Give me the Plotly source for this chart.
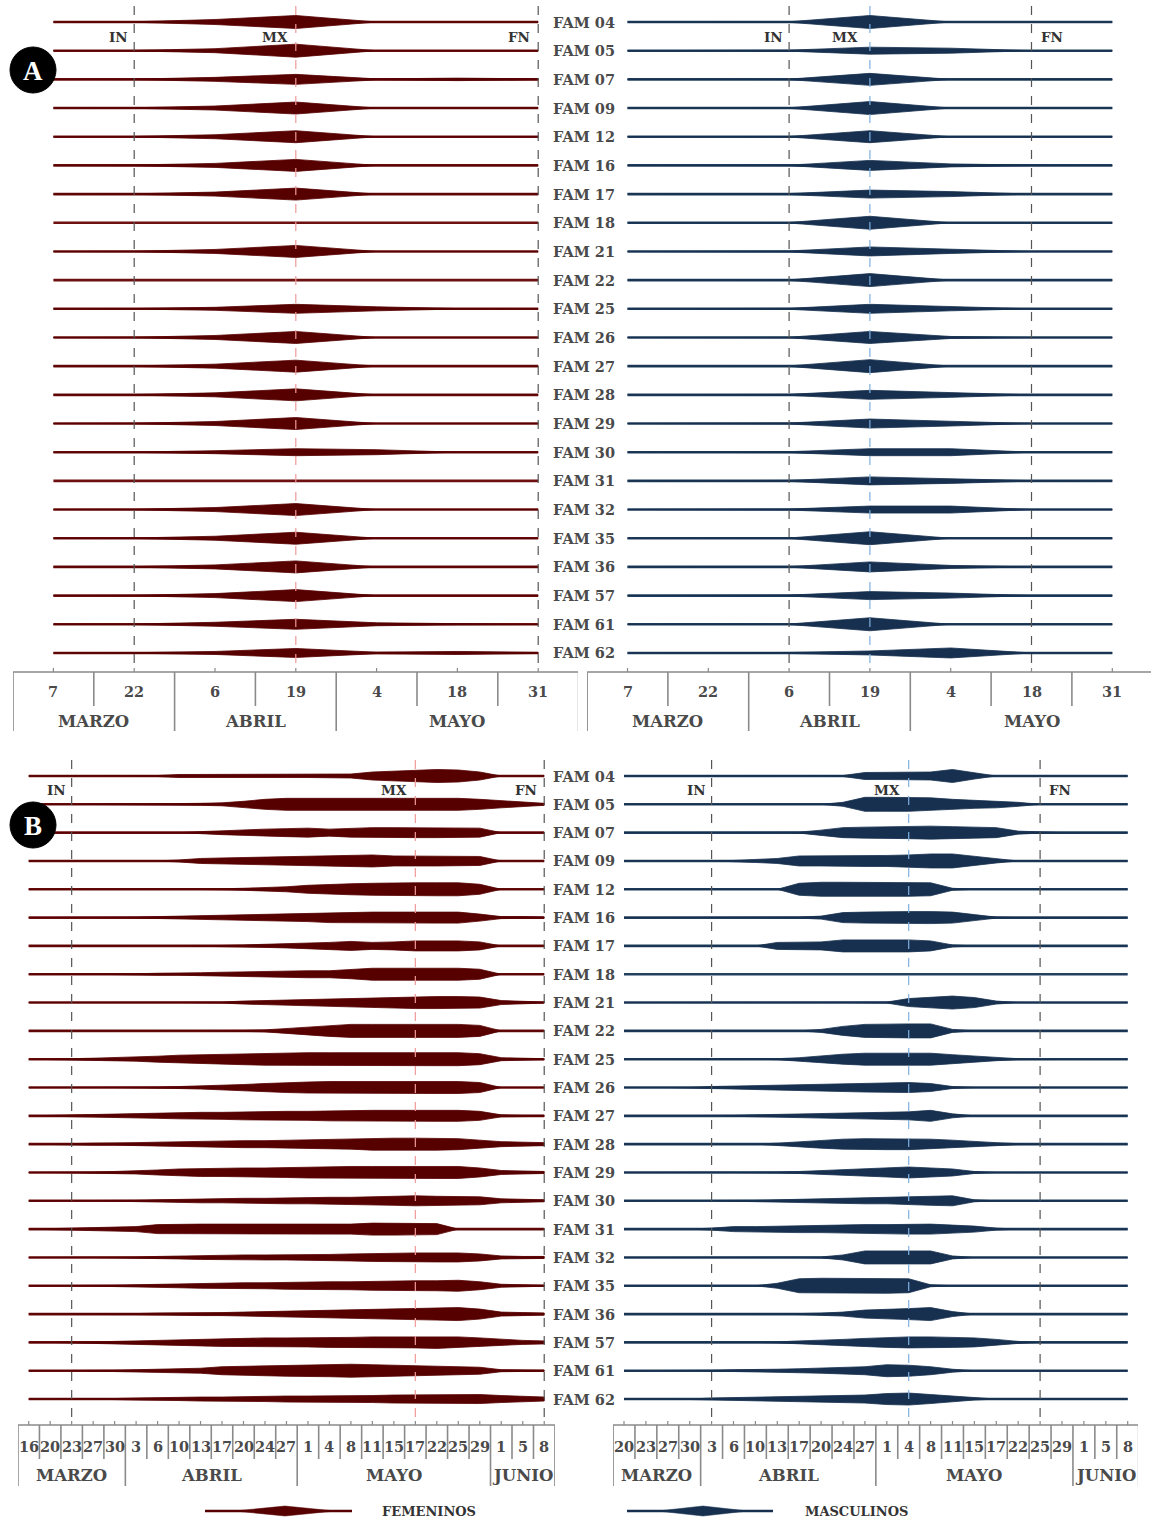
import plotly.graph_objects as go

W, H = 1151, 1521

FAMILIES = ["FAM 04", "FAM 05", "FAM 07", "FAM 09", "FAM 12", "FAM 16", "FAM 17", "FAM 18",
            "FAM 21", "FAM 22", "FAM 25", "FAM 26", "FAM 27", "FAM 28", "FAM 29", "FAM 30",
            "FAM 31", "FAM 32", "FAM 35", "FAM 36", "FAM 57", "FAM 61", "FAM 62"]

DATES_A = ["7", "22", "6", "19", "4", "18", "31"]
MONTHS_A = ["MARZO", "ABRIL", "MAYO"]
MONTH_SPAN_A = [2, 2, 3]

DATES_BF = ["16", "20", "23", "27", "30", "3", "6", "10", "13", "17", "20", "24", "27",
            "1", "4", "8", "11", "15", "17", "22", "25", "29", "1", "5", "8"]
MONTHS_B = ["MARZO", "ABRIL", "MAYO", "JUNIO"]
MONTH_SPAN_BF = [5, 8, 9, 3]
DATES_BM = ["20", "23", "27", "30", "3", "6", "10", "13", "17", "20", "24", "27",
            "1", "4", "8", "11", "15", "17", "22", "25", "29", "1", "5", "8"]
MONTH_SPAN_BM = [4, 8, 9, 3]

MARK_NAMES = ["IN", "MX", "FN"]
MARKS_AF = [1, 3, 6]
MARKS_AM = [2, 3, 5]
MARKS_BF = [2, 18, 24]
MARKS_BM = [4, 13, 19]

# relative abundance (band thickness) per family and date
A_FEM = [
    [0, 0.5, 5, 13, 0, 0, 0],
    [0, 0.5, 4, 13, 0, 0, 0],
    [0, 0.5, 4, 10, 1, 2.5, 1],
    [0, 0.5, 4, 12, 0, 0, 0],
    [0, 0.5, 4, 12, 0, 0, 0],
    [0, 0.8, 4, 12, 0, 0, 0],
    [0, 0.5, 4, 12, 0, 0, 0],
    [0, 0, 0, 0, 0, 0, 0],
    [0, 0.5, 4, 12, 0, 0, 0],
    [0, 0, 0, 0, 0, 0, 0],
    [0, 0.5, 3, 9, 4, 0.5, 0],
    [0, 0.5, 4, 12, 0, 0, 0],
    [0, 0.5, 4, 12, 0, 0, 0],
    [0, 0.5, 4, 12, 0, 0, 0],
    [0, 0.5, 4, 12, 0, 0, 0],
    [0, 0.3, 3, 7, 5, 0, 0],
    [0, 0, 0, 0, 0, 0, 0],
    [0, 0.5, 4, 12, 0, 0, 0],
    [0, 0.5, 4, 12, 0, 0, 0],
    [0, 0.5, 4, 12, 0, 0, 0],
    [0, 0.5, 4, 12, 0, 0, 0],
    [0, 0.5, 4, 10, 3, 1, 0.5],
    [0, 0.5, 3, 9, 1.5, 3, 1],
]

A_MAS = [
    [0, 0, 0.5, 13, 0, 0, 0],
    [0, 0, 1, 7, 5, 0, 0],
    [0, 0, 0.5, 12, 0, 0, 0],
    [0, 0, 0.5, 13, 0, 0, 0],
    [0, 0, 0.5, 12, 0, 0, 0],
    [0, 0, 0.5, 10, 3, 0.5, 0],
    [0, 0, 1, 8, 5, 0, 0],
    [0, 0, 0.5, 13, 0, 0, 0],
    [0, 0, 1, 9, 4, 0, 0],
    [0, 0, 0.5, 13, 0, 0, 0],
    [0, 0, 1, 9, 4, 0, 0],
    [0, 0, 0.5, 12, 2, 0, 0],
    [0, 0, 0.5, 13, 0, 0, 0],
    [0, 0, 1, 9, 5, 0, 0],
    [0, 0, 1, 9, 5, 0, 0],
    [0, 0, 1, 7, 7, 0, 0],
    [0, 0, 1, 8, 5, 0.5, 0],
    [0, 0, 1, 7, 7, 0, 0],
    [0, 0, 0.5, 13, 0, 0, 0],
    [0, 0, 0.5, 10, 3, 0, 0],
    [0, 0, 1, 8, 5, 0, 0],
    [0, 0, 0.5, 13, 0, 0, 0],
    [0, 0, 1, 4, 10, 0, 0],
]

B_FEM = [
    [0, 0, 0, 0, 0, 0, 1, 3, 3, 3, 3, 3, 3, 3, 3, 4, 8, 10, 11, 13, 12, 8, 0, 0, 0],
    [0, 0, 0, 0, 0, 0, 1, 1.5, 2, 3, 6, 10, 12, 12, 12, 12, 12, 12, 12, 12, 12, 10, 7, 4, 2],
    [0, 0, 0, 0, 0, 0, 0, 0, 2, 4, 6, 7, 8, 9, 7, 9, 10, 10, 10, 10, 10, 9, 0, 0, 0],
    [0, 0, 0, 0, 0, 0, 0, 2, 5, 6, 7, 8, 9, 9, 10, 11, 12, 10, 10, 10, 10, 9, 0, 0, 0],
    [0, 0, 0, 0, 0, 0, 0, 0, 0, 1, 2, 3, 5, 8, 10, 11, 12, 13, 13, 13, 13, 10, 0, 0, 0],
    [0, 0, 0, 0, 0, 1, 2, 3, 4, 5, 6, 6, 7, 8, 10, 11, 11, 11, 11, 11, 11, 7, 2, 2, 1],
    [0, 0, 0, 0, 0, 0, 0, 0, 0, 1, 2, 3, 4, 5, 7, 9, 7, 8, 10, 10, 10, 8, 0, 0, 0],
    [0, 0, 0, 0, 1, 1, 2, 2, 3, 4, 5, 5, 6, 7, 7, 9, 12, 12, 12, 12, 12, 10, 0, 0, 0],
    [0, 0, 0, 0, 0, 0, 0, 0, 0, 1, 3, 4, 5, 6, 7, 9, 10, 11, 12, 12, 12, 11, 4, 2, 1],
    [0, 0, 0, 0, 0, 0, 0, 0, 0, 0, 1, 2, 5, 8, 11, 13, 13, 13, 13, 13, 13, 11, 0, 0, 0],
    [0, 0, 1, 2, 3, 4, 6, 8, 9, 10, 11, 12, 13, 13, 13, 13, 13, 13, 13, 13, 13, 11, 3, 2, 1],
    [0, 0, 0, 0, 0, 0, 1, 2, 3, 4, 6, 8, 10, 11, 12, 12, 12, 12, 12, 12, 12, 10, 0, 0, 0],
    [0, 1, 2, 2, 3, 4, 5, 6, 7, 7, 8, 8, 9, 9, 10, 10, 11, 11, 11, 11, 11, 9, 2, 1, 1],
    [0, 0, 1, 2, 2, 3, 4, 5, 6, 6, 7, 7, 8, 9, 9, 10, 12, 12, 12, 12, 11, 8, 5, 4, 3],
    [0, 0, 0, 1, 2, 3, 5, 7, 8, 8, 9, 9, 10, 11, 12, 12, 12, 12, 12, 12, 12, 9, 4, 3, 2],
    [0, 0, 0, 0, 1, 1, 2, 3, 4, 4, 5, 5, 6, 6, 7, 7, 8, 9, 10, 9, 9, 8, 4, 3, 2],
    [0, 1, 2, 3, 4, 5, 9, 10, 10, 10, 10, 10, 10, 10, 10, 10, 12, 12, 12, 11, 0, 0, 0, 0, 0],
    [0, 0, 0, 0, 1, 1, 2, 3, 4, 4, 5, 5, 5, 6, 6, 7, 8, 9, 9, 9, 9, 7, 3, 2, 2],
    [0, 0, 0, 1, 1, 2, 3, 4, 5, 5, 6, 6, 7, 7, 8, 8, 9, 9, 10, 10, 11, 8, 3, 2, 1],
    [0, 0, 0, 0, 1, 1, 2, 2, 3, 3, 4, 5, 6, 6, 7, 8, 9, 10, 11, 12, 13, 10, 4, 3, 2],
    [0, 0, 0, 1, 2, 3, 4, 6, 7, 8, 8, 9, 9, 9, 10, 10, 11, 11, 11, 12, 11, 9, 6, 4, 3],
    [0, 0, 0, 0, 1, 2, 3, 4, 5, 8, 9, 10, 11, 12, 12, 13, 12, 11, 10, 9, 8, 7, 2, 1, 1],
    [0, 0, 0, 0, 1, 2, 3, 3, 4, 4, 5, 5, 6, 6, 6, 7, 7, 8, 8, 8, 9, 9, 7, 5, 4],
]

B_MAS = [
    [0, 0, 0, 0, 0, 0, 0, 0, 0, 0, 1, 7, 7, 7, 8, 13, 6, 0, 0, 0, 0, 0, 0, 0],
    [0, 0, 0, 0, 0, 0, 0, 0, 0, 0, 4, 14, 14, 14, 13, 10, 8, 7, 4, 0, 0, 0, 0, 0],
    [0, 0, 0, 0, 0, 0, 0, 0, 1, 5, 10, 11, 12, 12, 13, 12, 11, 10, 3, 1, 0, 0, 0, 0],
    [0, 0, 0, 0, 0, 1, 3, 5, 10, 10, 10, 11, 11, 12, 14, 14, 9, 4, 0, 0, 0, 0, 0, 0],
    [0, 0, 0, 0, 0, 0, 0, 0, 12, 14, 14, 14, 14, 14, 13, 2, 0, 0, 0, 0, 0, 0, 0, 0],
    [0, 0, 0, 0, 0, 0, 0, 0, 1, 3, 10, 11, 12, 12, 12, 11, 6, 1, 0, 0, 0, 0, 0, 0],
    [0, 0, 0, 0, 0, 0, 0, 7, 8, 8, 12, 12, 12, 12, 10, 2, 0, 0, 0, 0, 0, 0, 0, 0],
    [0, 0, 0, 0, 0, 0, 0, 0, 0, 0, 0, 0, 0, 0, 0, 0, 0, 0, 0, 0, 0, 0, 0, 0],
    [0, 0, 0, 0, 0, 0, 0, 0, 0, 0, 0, 0, 1, 8, 11, 13, 10, 3, 0, 0, 0, 0, 0, 0],
    [0, 0, 0, 0, 0, 0, 0, 0, 0, 3, 9, 13, 14, 14, 14, 3, 0, 0, 0, 0, 0, 0, 0, 0],
    [0, 0, 0, 0, 0, 0, 0, 1, 3, 7, 10, 12, 12, 12, 12, 9, 6, 3, 1, 0, 0, 0, 0, 0],
    [0, 0, 0, 0, 2, 3, 4, 5, 6, 7, 8, 9, 10, 10, 8, 2, 0, 0, 0, 0, 0, 0, 0, 0],
    [0, 0, 0, 0, 0, 1, 2, 3, 3, 4, 5, 6, 7, 8, 11, 4, 0, 0, 0, 0, 0, 0, 0, 0],
    [0, 0, 0, 0, 0, 0, 0, 2, 5, 8, 10, 11, 11, 11, 10, 8, 5, 3, 1, 0, 0, 0, 0, 0],
    [0, 0, 0, 0, 0, 0, 0, 1, 2, 4, 6, 7, 9, 11, 9, 7, 2, 0, 0, 0, 0, 0, 0, 0],
    [0, 0, 0, 0, 0, 0, 1, 2, 3, 4, 5, 6, 6, 7, 9, 10, 2, 0, 0, 0, 0, 0, 0, 0],
    [0, 0, 0, 0, 2, 5, 5, 6, 7, 7, 8, 9, 9, 10, 10, 8, 6, 2, 0, 0, 0, 0, 0, 0],
    [0, 0, 0, 0, 0, 0, 0, 0, 0, 1, 5, 13, 13, 13, 13, 3, 0, 0, 0, 0, 0, 0, 0, 0],
    [0, 0, 0, 0, 0, 0, 0, 5, 14, 15, 15, 15, 15, 14, 2, 0, 0, 0, 0, 0, 0, 0, 0, 0],
    [0, 0, 0, 0, 0, 0, 0, 0, 1, 2, 4, 8, 9, 11, 13, 5, 0, 0, 0, 0, 0, 0, 0, 0],
    [0, 0, 0, 0, 0, 0, 0, 1, 3, 4, 6, 8, 10, 11, 11, 10, 9, 6, 2, 0, 0, 0, 0, 0],
    [0, 0, 0, 0, 1, 2, 2, 3, 4, 5, 6, 8, 12, 11, 8, 3, 0, 0, 0, 0, 0, 0, 0, 0],
    [0, 0, 0, 0, 2, 3, 3, 4, 5, 6, 7, 8, 11, 12, 9, 6, 2, 0, 0, 0, 0, 0, 0, 0],
]

# ---------------------------------------------------------------- styling / layout
FONT = "DejaVu Serif"
TXT = "#4a4a4a"
FEM_FILL, FEM_LINE, FEM_MX = "#570000", "#6e1010", "#f19a9a"
MAS_FILL, MAS_LINE, MAS_MX = "#17304f", "#23405f", "#7fb0e0"
GRID = "#8a8a8a"


def P(py):
    return 1 - py / H


def X(px):
    return px / W


A_GEOM = dict(top=6, axis=672, row0=22, rowstep=28.68, date_y=692, month_y=721,
              dsep=706, msep=731, mark_y=37)
B_GEOM = dict(top=760, axis=1425, row0=776, rowstep=28.32, date_y=1446, month_y=1475,
              dsep=1459, msep=1486, mark_y=790)

PANELS = [
    dict(vals=A_FEM, dates=DATES_A, months=MONTHS_A, spans=MONTH_SPAN_A, marks=MARKS_AF,
         fill=FEM_FILL, line=FEM_LINE, mx=FEM_MX, left=13, right=578, first=53.4, step=80.8,
         shifts=[-4, -6, -6], anchors=["right", "right", "right"], g=A_GEOM),
    dict(vals=A_MAS, dates=DATES_A, months=MONTHS_A, spans=MONTH_SPAN_A, marks=MARKS_AM,
         fill=MAS_FILL, line=MAS_LINE, mx=MAS_MX, left=587, right=1151, first=627.5, step=80.8,
         shifts=[-4, -10, 7], anchors=["right", "right", "left"], g=A_GEOM),
    dict(vals=B_FEM, dates=DATES_BF, months=MONTHS_B, spans=MONTH_SPAN_BF, marks=MARKS_BF,
         fill=FEM_FILL, line=FEM_LINE, mx=FEM_MX, left=18, right=555, first=28.7, step=21.48,
         shifts=[-4, -6, -5], anchors=["right", "right", "right"], g=B_GEOM),
    dict(vals=B_MAS, dates=DATES_BM, months=MONTHS_B, spans=MONTH_SPAN_BM, marks=MARKS_BM,
         fill=MAS_FILL, line=MAS_LINE, mx=MAS_MX, left=613, right=1138, first=624.0, step=21.9,
         shifts=[-4, -7, 7], anchors=["right", "right", "left"], g=B_GEOM),
]

fig = go.Figure()
shapes = []
annotations = []
layout_axes = {}

for k, p in enumerate(PANELS, start=1):
    g = p["g"]
    xa = "x" if k == 1 else f"x{k}"
    ya = "y" if k == 1 else f"y{k}"
    n = len(p["dates"])
    x_lo = (p["left"] - p["first"]) / p["step"]
    x_hi = (p["right"] - p["first"]) / p["step"]
    layout_axes["xaxis" if k == 1 else f"xaxis{k}"] = dict(
        domain=[X(p["left"]), min(1.0, X(p["right"]))], range=[x_lo, x_hi],
        visible=False, anchor=ya, fixedrange=True)
    y_lo = -(g["axis"] - g["row0"]) / g["rowstep"]
    y_hi = (g["row0"] - g["top"]) / g["rowstep"]
    layout_axes["yaxis" if k == 1 else f"yaxis{k}"] = dict(
        domain=[P(g["axis"]), P(g["top"])], range=[y_lo, y_hi],
        visible=False, anchor=xa, fixedrange=True)

    half = 0.5 / g["rowstep"]  # one unit of abundance = 1 px of band thickness
    idx = list(range(n))
    for i, row in enumerate(p["vals"]):
        fig.add_trace(go.Scatter(x=[0, n - 1], y=[-i, -i], mode="lines",
                                 line=dict(color=p["line"], width=2.6),
                                 xaxis=xa, yaxis=ya, hoverinfo="skip", showlegend=False))
        if any(v > 0 for v in row):
            up = [-i + v * half for v in row]
            dn = [-i - v * half for v in row]
            fig.add_trace(go.Scatter(x=idx + idx[::-1], y=up + dn[::-1], mode="lines",
                                     fill="toself", fillcolor=p["fill"],
                                     line=dict(color=p["fill"], width=0.8),
                                     xaxis=xa, yaxis=ya, hoverinfo="skip", showlegend=False))

    # IN / MX / FN reference lines and labels
    for j, m in enumerate(p["marks"]):
        col = p["mx"] if j == 1 else "#555555"
        shapes.append(dict(type="line", xref=xa, yref="paper", x0=m, x1=m,
                           y0=P(g["top"]), y1=P(g["axis"]),
                           line=dict(color=col, width=1.2, dash="dash")))
        annotations.append(dict(xref=xa, yref="paper", x=m, y=P(g["mark_y"]),
                                text=f"<b>{MARK_NAMES[j]}</b>", showarrow=False,
                                xanchor=p["anchors"][j], xshift=p["shifts"][j], yanchor="middle",
                                font=dict(family=FONT, size=13.5, color="#333333")))

    # date axis box
    shapes.append(dict(type="line", xref=xa, yref="paper", x0=-0.5, x1=n - 0.5,
                       y0=P(g["axis"]), y1=P(g["axis"]), line=dict(color=GRID, width=1.6)))
    month_edges = [0]
    for s in p["spans"]:
        month_edges.append(month_edges[-1] + s)
    for b in range(n + 1):
        bottom = g["msep"] if b in month_edges else g["dsep"]
        shapes.append(dict(type="line", xref=xa, yref="paper", x0=b - 0.5, x1=b - 0.5,
                           y0=P(g["axis"]), y1=P(bottom), line=dict(color=GRID, width=1.6)))
    for j in range(n):
        shapes.append(dict(type="line", xref=xa, yref="paper", x0=j, x1=j,
                           y0=P(g["axis"]), y1=P(g["axis"] - 4), line=dict(color=GRID, width=1.2)))
        annotations.append(dict(xref=xa, yref="paper", x=j, y=P(g["date_y"]),
                                text=f"<b>{p['dates'][j]}</b>", showarrow=False,
                                xanchor="center", yanchor="middle",
                                font=dict(family=FONT, size=14.5, color=TXT)))
    for mi, mname in enumerate(p["months"]):
        cx = (month_edges[mi] + month_edges[mi + 1] - 1) / 2
        annotations.append(dict(xref=xa, yref="paper", x=cx, y=P(g["month_y"]),
                                text=f"<b>{mname}</b>", showarrow=False,
                                xanchor="center", yanchor="middle",
                                font=dict(family=FONT, size=16.5, color=TXT)))

# family labels between panels
for ya, g in (("y", A_GEOM), ("y3", B_GEOM)):
    for i, fam in enumerate(FAMILIES):
        annotations.append(dict(xref="paper", yref=ya, x=X(584), y=-i, text=f"<b>{fam}</b>",
                                showarrow=False, xanchor="center", yanchor="middle",
                                font=dict(family=FONT, size=14.5, color=TXT)))

# panel letters
for letter, cy in (("A", 70), ("B", 825)):
    r = 23
    shapes.append(dict(type="circle", xref="paper", yref="paper", x0=X(33 - r), x1=X(33 + r),
                       y0=P(cy + r), y1=P(cy - r), fillcolor="black", line=dict(color="black", width=1)))
    annotations.append(dict(xref="paper", yref="paper", x=X(33), y=P(cy + 1), text=f"<b>{letter}</b>",
                            showarrow=False, xanchor="center", yanchor="middle",
                            font=dict(family="Liberation Serif", size=27, color="white")))


# legend
def legend_glyph(x0, x1, xc, hw, thick, ly, color):
    shapes.append(dict(type="line", xref="paper", yref="paper", x0=X(x0), x1=X(x1),
                       y0=P(ly), y1=P(ly), line=dict(color=color, width=2.6)))
    path = (f"M {X(xc - hw)} {P(ly)} L {X(xc)} {P(ly - thick / 2)} "
            f"L {X(xc + hw)} {P(ly)} L {X(xc)} {P(ly + thick / 2)} Z")
    shapes.append(dict(type="path", xref="paper", yref="paper", path=path,
                       fillcolor=color, line=dict(color=color, width=0.5)))


legend_glyph(205, 352, 285, 50, 10, 1511, FEM_FILL)
legend_glyph(627, 773, 703, 45, 10, 1511, MAS_FILL)
annotations.append(dict(xref="paper", yref="paper", x=X(380), y=P(1511), text="<b>FEMENINOS</b>",
                        showarrow=False, xanchor="left", yanchor="middle",
                        font=dict(family=FONT, size=13, color="#333333")))
annotations.append(dict(xref="paper", yref="paper", x=X(803), y=P(1511), text="<b>MASCULINOS</b>",
                        showarrow=False, xanchor="left", yanchor="middle",
                        font=dict(family=FONT, size=13, color="#333333")))

fig.update_layout(width=W, height=H, margin=dict(l=0, r=0, t=0, b=0),
                  paper_bgcolor="white", plot_bgcolor="white", showlegend=False,
                  shapes=shapes, annotations=annotations, **layout_axes)

fig.write_html("out.html", config={"displayModeBar": False},
               post_script="document.body.style.margin='0px';")
